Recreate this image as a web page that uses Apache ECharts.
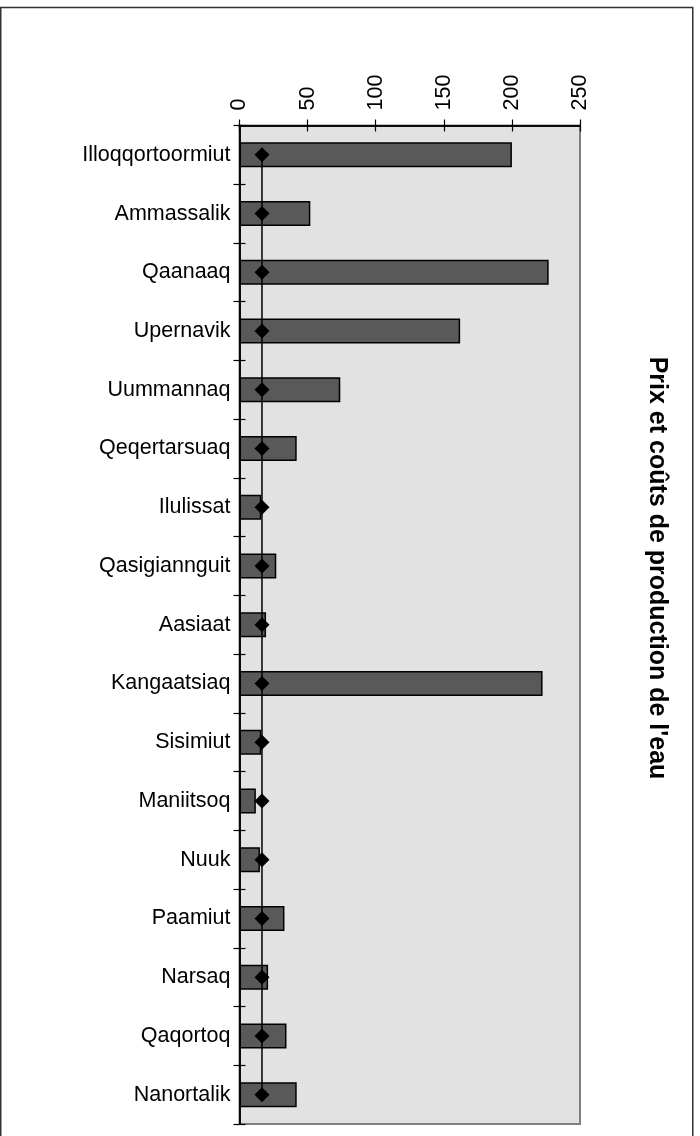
<!DOCTYPE html>
<html>
<head>
<meta charset="utf-8">
<script src="https://cdn.jsdelivr.net/npm/echarts@6/dist/echarts.min.js"></script>
<style>
  html, body { margin: 0; padding: 0; background: #ffffff; }
  #chart { width: 700px; height: 1136px; }
</style>
</head>
<body>
<div id="chart"></div>
<script>
// Towns, from north-east down to the southern tip
const towns = [
  'Illoqqortoormiut', 'Ammassalik', 'Qaanaaq', 'Upernavik', 'Uummannaq',
  'Qeqertarsuaq', 'Ilulissat', 'Qasigiannguit', 'Aasiaat', 'Kangaatsiaq',
  'Sisimiut', 'Maniitsoq', 'Nuuk', 'Paamiut', 'Narsaq', 'Qaqortoq', 'Nanortalik'
];
// Production cost per town
const productionCost = [200, 52, 227, 162, 74, 42, 16, 27, 19.5, 222.5, 16, 12, 15, 33, 21, 34.5, 42];
// Uniform selling price
const price = [16.5, 16.5, 16.5, 16.5, 16.5, 16.5, 16.5, 16.5, 16.5, 16.5, 16.5, 16.5, 16.5, 16.5, 16.5, 16.5, 16.5];
const valueTicks = [0, 50, 100, 150, 200, 250];
const titleText = "Prix et coûts de production de l'eau";

const FONT = "'Liberation Sans', Arial, Helvetica, sans-serif";
const chart = echarts.init(document.getElementById('chart'), null, { renderer: 'canvas' });

const baseValueAxis = {
  type: 'value',
  position: 'top',
  min: valueTicks[0],
  max: valueTicks[valueTicks.length - 1],
  interval: valueTicks[1] - valueTicks[0],
  axisLine: { show: true, onZero: false, lineStyle: { color: '#000', width: 1.5 } },
  splitLine: { show: false }
};
const baseCatAxis = {
  type: 'category',
  data: towns,
  inverse: true,
  position: 'left',
  axisLine: { show: true, onZero: false, lineStyle: { color: '#000', width: 1.5 } },
  splitLine: { show: false }
};

chart.setOption({
  animation: false,
  backgroundColor: '#ffffff',
  grid: {
    left: 239.5, top: 125.5, right: 120, bottom: 12,
    show: true, backgroundColor: '#e2e2e2', borderColor: '#808080', borderWidth: 2
  },
  xAxis: [
    Object.assign({}, baseValueAxis, {
      axisTick: { show: true, inside: false, length: 6, lineStyle: { color: '#000', width: 1.2 } },
      axisLabel: {
        show: true, rotate: -90, margin: 15, color: '#000',
        fontFamily: FONT, fontSize: 21.5
      }
    }),
    Object.assign({}, baseValueAxis, {
      axisTick: { show: true, inside: true, length: 6, lineStyle: { color: '#000', width: 1.2 } },
      axisLabel: { show: false }
    })
  ],
  yAxis: [
    Object.assign({}, baseCatAxis, {
      axisTick: { show: true, inside: false, length: 6, lineStyle: { color: '#000', width: 1.2 } },
      axisLabel: { show: true, margin: 9, color: '#000', fontFamily: FONT, fontSize: 21.5 }
    }),
    Object.assign({}, baseCatAxis, {
      axisTick: { show: true, inside: true, length: 6, lineStyle: { color: '#000', width: 1.2 } },
      axisLabel: { show: false }
    })
  ],
  series: [
    {
      name: 'Coût de production',
      type: 'bar',
      xAxisIndex: 0, yAxisIndex: 0,
      data: productionCost,
      barWidth: 25,
      itemStyle: { color: '#595959', borderColor: '#000', borderWidth: 1.5 },
      z: 2
    },
    {
      name: 'Prix',
      type: 'line',
      xAxisIndex: 0, yAxisIndex: 0,
      data: price,
      symbol: 'diamond',
      symbolSize: 15,
      showSymbol: true,
      lineStyle: { color: '#000', width: 1.5 },
      itemStyle: { color: '#000' },
      z: 3
    }
  ],
  graphic: [
    {
      type: 'rect',
      shape: { x: 0.75, y: 7.5, width: 692, height: 1140 },
      style: { fill: 'none', stroke: '#333', lineWidth: 1.5 },
      silent: true, z: 100
    },
    {
      type: 'text',
      x: 657, y: 568,
      rotation: -Math.PI / 2,
      style: {
        text: titleText,
        fontFamily: FONT, fontSize: 25, fontWeight: 'bold',
        fill: '#000', textAlign: 'center', textVerticalAlign: 'middle'
      },
      z: 100
    }
  ]
});
</script>
</body>
</html>
